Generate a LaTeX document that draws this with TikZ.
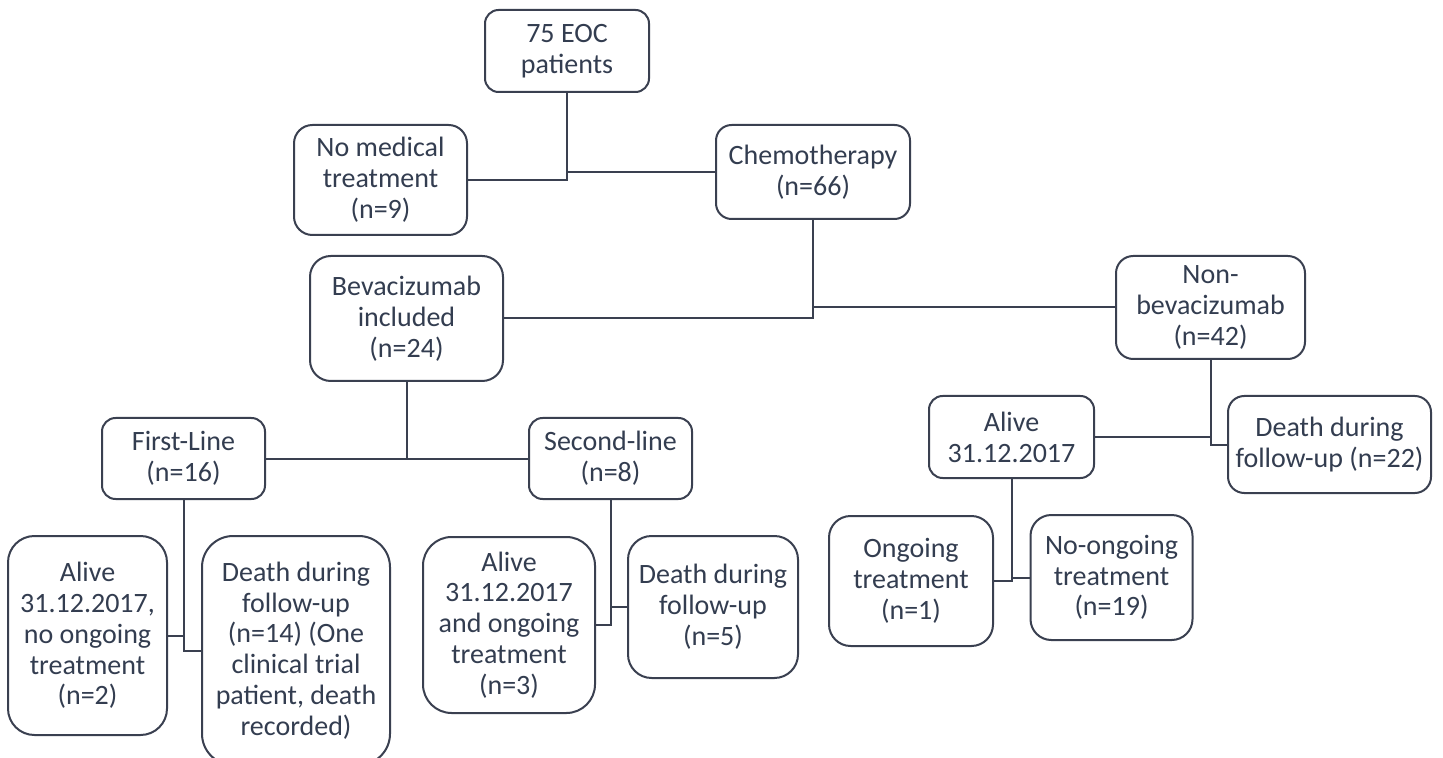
\documentclass[tikz,border=0pt]{standalone}
\usepackage{fontspec}
\setmainfont{Carlito}
\usepackage{tikz}
\usetikzlibrary{positioning}
\definecolor{boxtext}{HTML}{333D50}
\definecolor{boxline}{HTML}{3A4050}

\begin{document}
\begin{tikzpicture}[x=0.5pt, y=-0.5pt, node distance=17.5pt, every node/.style={rectangle, draw=boxline, line width=1pt, text=boxtext, align=center, inner sep=2pt, font=\fontsize{14}{15.4}\selectfont}, link/.style={draw=boxline, line width=1pt}]
    \fill[white] (0,0) rectangle (1443,758);
    \useasboundingbox (0,0) rectangle (1443,758);
    \node[minimum width=82pt, minimum height=41pt, rounded corners=6.8pt] (eoc) at (567,51) {75 EOC\\patients};
    \node[below left=15.5pt and 49.5pt of eoc.south, minimum width=86.5pt, minimum height=55pt, rounded corners=9.2pt] (nomed) {No medical\\treatment\\(n=9)};
    \node[below right=15.5pt and 74pt of eoc.south, minimum width=97pt, minimum height=47pt, rounded corners=7.8pt] (chemo) {Chemotherapy\\(n=66)};
    \node[below left=17.5pt and 154.5pt of chemo.south, minimum width=96.5pt, minimum height=62.5pt, rounded corners=10.4pt] (bev) {Bevacizumab\\included\\(n=24)};
    \node[below right=17.5pt and 151pt of chemo.south, minimum width=94.5pt, minimum height=51.5pt, rounded corners=8.6pt] (nonbev) {Non-\\bevacizumab\\(n=42)};
    \node[below left=17.5pt and 70.25pt of bev.south, minimum width=81.5pt, minimum height=40.5pt, rounded corners=6.8pt] (first) {First-Line\\(n=16)};
    \node[below right=17.5pt and 60.75pt of bev.south, minimum width=81.5pt, minimum height=40.5pt, rounded corners=6.8pt] (second) {Second-line\\(n=8)};
    \node[below left=17.5pt and 7.75pt of first.south, minimum width=79.5pt, minimum height=99.5pt, rounded corners=13.2pt] (alive1) {Alive\\31.12.2017,\\no ongoing\\treatment\\(n=2)};
    \node[below right=17.5pt and 8.75pt of first.south, minimum width=94pt, minimum height=114.5pt, rounded corners=15.6pt] (death1) {Death during\\follow-up\\(n=14) (One\\clinical trial\\patient, death\\recorded)};
    \node[below left=18pt and 7.25pt of second.south, minimum width=86pt, minimum height=88pt, rounded corners=14.3pt] (alive2) {Alive\\31.12.2017\\and ongoing\\treatment\\(n=3)};
    \node[below right=17.5pt and 8.25pt of second.south, minimum width=85pt, minimum height=71pt, rounded corners=11.8pt] (death2) {Death during\\follow-up\\(n=5)};
    \node[below left=17.5pt and 57.75pt of nonbev.south, minimum width=82.5pt, minimum height=41pt, rounded corners=6.8pt] (aliver) {Alive\\31.12.2017};
    \node[below right=17.5pt and 8.25pt of nonbev.south, minimum width=101.5pt, minimum height=48.5pt, rounded corners=8.1pt] (deathr) {Death during\\follow-up (n=22)};
    \node[below left=18pt and 8.75pt of aliver.south, minimum width=82pt, minimum height=65pt, rounded corners=10.8pt] (ongoing) {Ongoing\\treatment\\(n=1)};
    \node[below right=17.5pt and 9pt of aliver.south, minimum width=81pt, minimum height=62.5pt, rounded corners=10.4pt] (noongoing) {No-ongoing\\treatment\\(n=19)};
    % tree links
    \draw[link] (nomed.east) -| (eoc.south);
    \draw[link] (chemo.west) -| (eoc.south);
    \draw[link] (bev.east) -| (chemo.south);
    \draw[link] (nonbev.west) -| (chemo.south);
    \draw[link] (first.east) -| (bev.south);
    \draw[link] (second.west) -| (bev.south);
    \draw[link] (alive1.east) -| (first.south);
    \draw[link] (death1.west) -| (first.south);
    \draw[link] (alive2.east) -| (second.south);
    \draw[link] (death2.west) -| (second.south);
    \draw[link] (aliver.east) -| (nonbev.south);
    \draw[link] (deathr.west) -| (nonbev.south);
    \draw[link] (ongoing.east) -| (aliver.south);
    \draw[link] (noongoing.west) -| (aliver.south);
\end{tikzpicture}
\end{document}
